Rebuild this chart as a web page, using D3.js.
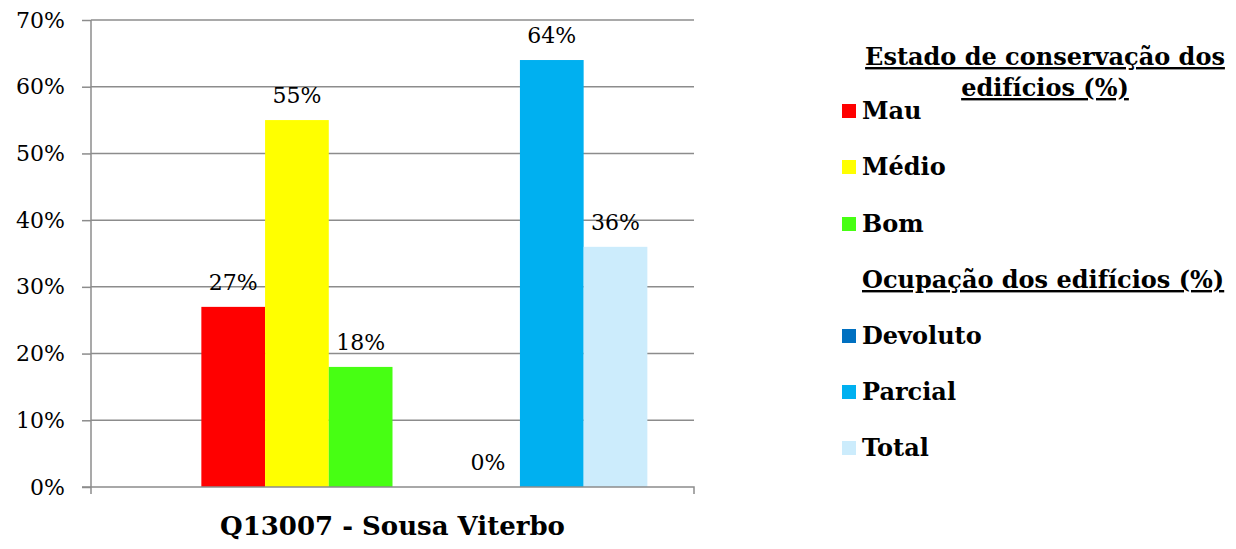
<!DOCTYPE html>
<html><head><meta charset="utf-8">
<script src="https://cdn.jsdelivr.net/npm/d3@7"></script>
<style>body{margin:0;background:#fff}svg{display:block}text{font-family:Georgia,"DejaVu Serif",serif;fill:#000}</style>
</head><body>
<svg id="c" width="1236" height="549"></svg>
<script>
const category = "Q13007 - Sousa Viterbo";
const seriesNames = ["Estado de conservação dos edifícios (%)", "Mau", "Médio", "Bom", "Ocupação dos edifícios (%)", "Devoluto", "Parcial", "Total"];
const seriesValues = [null, 27, 55, 18, null, 0, 64, 36];
const seriesColors = [null, "#FF0000", "#FFFF00", "#47FF13", null, "#0070C0", "#00B0F0", "#CCECFC"];
const yTicks = [0, 10, 20, 30, 40, 50, 60, 70];

const svg = d3.select("#c");
const L = 91, R = 694, T = 20, B = 487;
const y = d3.scaleLinear().domain([0, 70]).range([B, T]);
const x0 = d3.scaleBand().domain([category]).range([L, R]).paddingInner(0).paddingOuter(0.0915);
const x1 = d3.scaleBand().domain(seriesNames).range([0, x0.bandwidth()]);

// gridlines
svg.append("g").selectAll("line").data(yTicks.filter(d => d > 0)).join("line")
  .attr("x1", L).attr("x2", R).attr("y1", d => y(d)).attr("y2", d => y(d))
  .attr("stroke", "#8c8c8c").attr("stroke-width", 1.5);

// bars
const g = svg.append("g").attr("transform", `translate(${x0(category)},0)`);
const data = seriesNames.map((n, i) => ({n, v: seriesValues[i], c: seriesColors[i]})).filter(d => d.v !== null);
g.selectAll("rect").data(data).join("rect")
  .attr("x", d => x1(d.n)).attr("width", x1.bandwidth())
  .attr("y", d => y(d.v)).attr("height", d => B - y(d.v)).attr("fill", d => d.c);
g.selectAll("text.lbl").data(data).join("text").attr("class", "lbl")
  .attr("x", d => x1(d.n) + x1.bandwidth() / 2).attr("y", d => y(d.v) - 17)
  .attr("text-anchor", "middle").attr("font-size", 22).text(d => d.v + "%");

// y axis
const ya = svg.append("g").attr("transform", `translate(${L},0)`)
  .call(d3.axisLeft(y).tickValues(yTicks).tickFormat(d => d + "%").tickSize(9).tickPadding(17));
ya.select(".domain").attr("stroke", "#8c8c8c").attr("stroke-width", 1.5).attr("d", `M0,${T}V${B + 7}`);
ya.selectAll(".tick line").attr("stroke", "#8c8c8c").attr("stroke-width", 1.5);
ya.selectAll(".tick text").attr("font-size", 22).attr("font-family", null).attr("fill", "#000");

// x axis
const xa = svg.append("g").attr("transform", `translate(0,${B})`)
  .call(d3.axisBottom(x0).tickSize(0).tickFormat(""));
xa.select(".domain").attr("stroke", "#8c8c8c").attr("stroke-width", 1.5).attr("d", `M${L - 9},0H${R}V7`);
svg.append("text").attr("x", (L + R) / 2).attr("y", 535).attr("text-anchor", "middle")
  .attr("font-size", 26).attr("font-weight", "bold").text(category);

// legend
const lg = svg.append("g");
const tx = 862, sx = 842, fs = 24;
lg.append("text").attr("x", 1045).attr("y", 65).attr("text-anchor", "middle").attr("font-size", fs)
  .attr("font-weight", "bold").attr("text-decoration", "underline").text("Estado de conservação dos");
lg.append("text").attr("x", 1045).attr("y", 96).attr("text-anchor", "middle").attr("font-size", fs)
  .attr("font-weight", "bold").attr("text-decoration", "underline").text("edifícios (%)");
const ys = [111, 167, 224, 280, 336, 392, 448];
seriesNames.slice(1).forEach((n, i) => {
  const c = seriesColors[i + 1];
  if (c) lg.append("rect").attr("x", sx).attr("y", ys[i] - 7).attr("width", 14).attr("height", 14).attr("fill", c);
  const t = lg.append("text").attr("x", tx).attr("y", ys[i] + 8).attr("font-size", fs).attr("font-weight", "bold").text(n);
  if (!c) t.attr("text-decoration", "underline");
});
</script>
</body></html>
